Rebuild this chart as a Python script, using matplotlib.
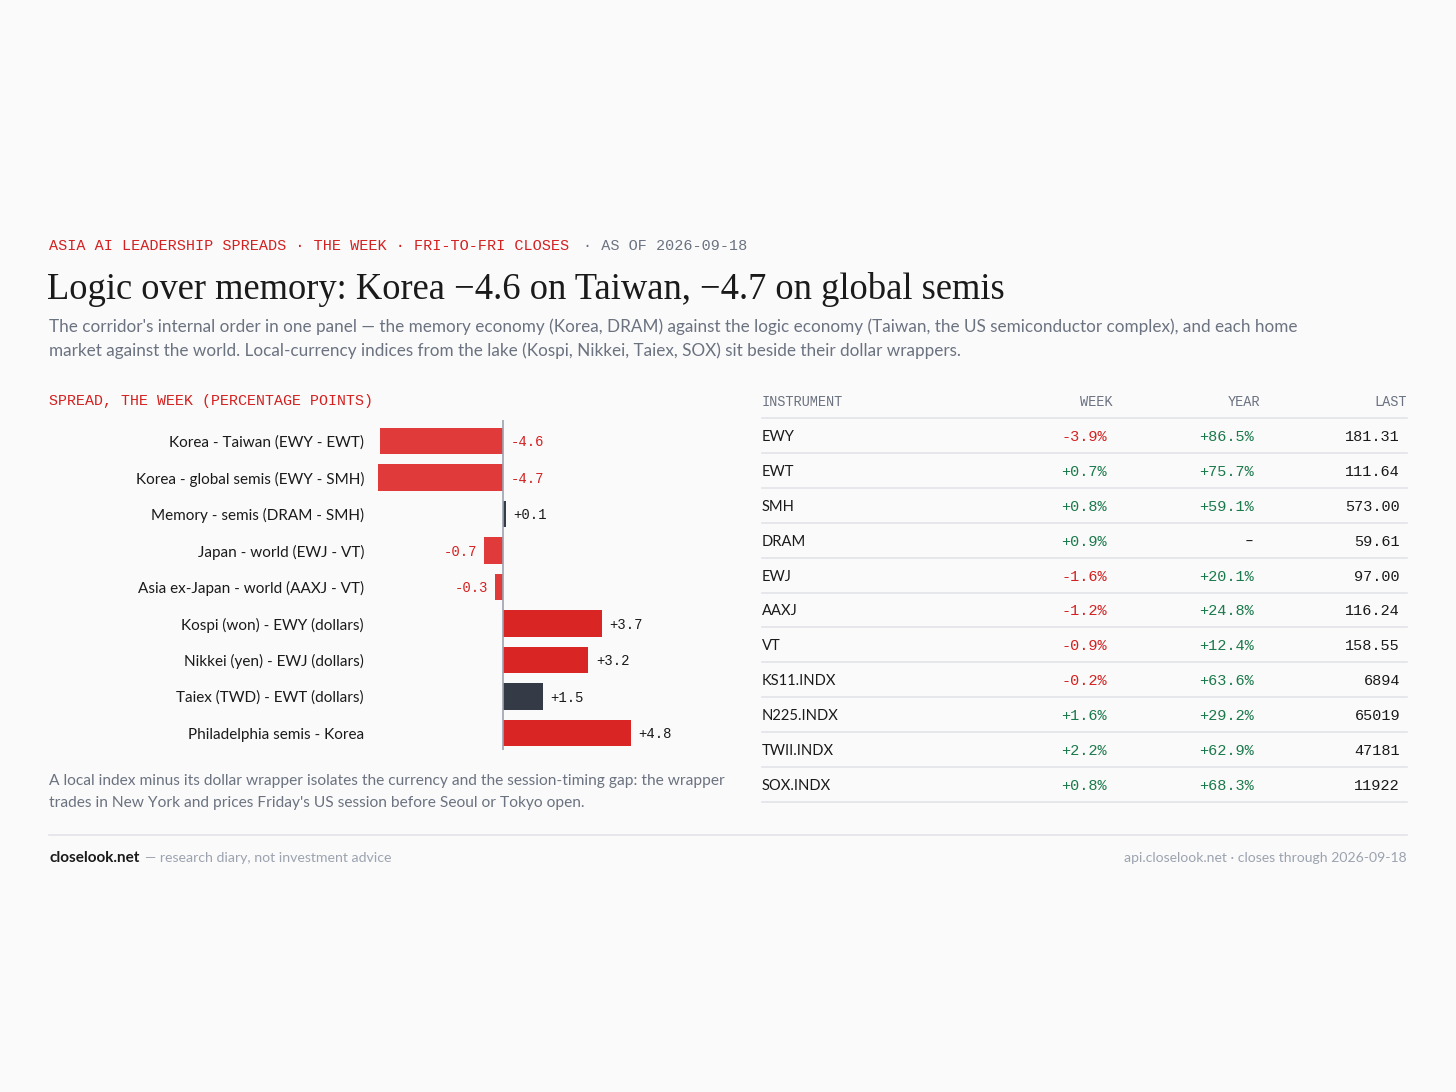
import matplotlib
matplotlib.use("Agg")
import matplotlib.pyplot as plt

W, H = 1456, 1092
BG = "#fafafa"
RED = "#d42020"
GREEN = "#1b7a4b"
DARK = "#1a1a1a"
GRAY = "#6b7280"
LIGHT = "#9ca3af"
SANS = ["Lato", "DejaVu Sans"]
MONO = ["Liberation Mono", "DejaVu Sans Mono"]
SERIF = ["Liberation Serif", "DejaVu Serif"]

# spread bars
spread_labels = ["Korea - Taiwan (EWY - EWT)", "Korea - global semis (EWY - SMH)",
                 "Memory - semis (DRAM - SMH)", "Japan - world (EWJ - VT)",
                 "Asia ex-Japan - world (AAXJ - VT)", "Kospi (won) - EWY (dollars)",
                 "Nikkei (yen) - EWJ (dollars)", "Taiex (TWD) - EWT (dollars)",
                 "Philadelphia semis - Korea"]
spread_values = [-4.6, -4.7, 0.1, -0.7, -0.3, 3.7, 3.2, 1.5, 4.8]
spread_colors = ["#e03a3a", "#e03a3a", "#353a47", "#e03a3a", "#e03a3a",
                 "#da2525", "#da2525", "#353a47", "#da2525"]

# table
instruments = ["EWY", "EWT", "SMH", "DRAM", "EWJ", "AAXJ", "VT",
               "KS11.INDX", "N225.INDX", "TWII.INDX", "SOX.INDX"]
week_pct = [-3.9, 0.7, 0.8, 0.9, -1.6, -1.2, -0.9, -0.2, 1.6, 2.2, 0.8]
year_pct = [86.5, 75.7, 59.1, None, 20.1, 24.8, 12.4, 63.6, 29.2, 62.9, 68.3]
last_px = ["181.31", "111.64", "573.00", "59.61", "97.00", "116.24", "158.55",
           "6894", "65019", "47181", "11922"]

fig = plt.figure(figsize=(W / 100, H / 100), dpi=100, facecolor=BG)


def fx(x):
    return x / W


def fy(y):
    return 1 - y / H


def txt(x, y, s, **kw):
    kw.setdefault("va", "center")
    fig.text(fx(x), fy(y + 1.5), s, **kw)


# header
txt(49, 244, "ASIA AI LEADERSHIP SPREADS · THE WEEK · FRI-TO-FRI CLOSES",
    family=MONO, fontsize=10.9, color=RED)
txt(583, 244, "· AS OF 2026-09-18", family=MONO, fontsize=10.9, color=GRAY)
txt(47, 288, "Logic over memory: Korea \u22124.6 on Taiwan, \u22124.7 on global semis",
    family=SERIF, fontsize=26.3, color=DARK)
txt(49, 325, "The corridor's internal order in one panel \u2014 the memory economy (Korea, DRAM) "
    "against the logic economy (Taiwan, the US semiconductor complex), and each home",
    family=SANS, fontsize=12.35, color=GRAY)
txt(49, 349, "market against the world. Local-currency indices from the lake (Kospi, Nikkei, "
    "Taiex, SOX) sit beside their dollar wrappers.",
    family=SANS, fontsize=12.35, color=GRAY)

# bar panel
txt(49, 400, "SPREAD, THE WEEK (PERCENTAGE POINTS)", family=MONO, fontsize=10.8, color=RED)

ax_l, ax_r, ax_t, ax_b = 370, 700, 420, 750
ax = fig.add_axes([fx(ax_l), fy(ax_b), fx(ax_r - ax_l), (ax_b - ax_t) / H])
ax.set_facecolor("none")
pxu = 26.7
ax.set_xlim((ax_l - 503) / pxu, (ax_r - 503) / pxu)
ax.set_ylim(8 + 17 / 36.5, -21 / 36.5)
ys = list(range(len(spread_values)))
ax.barh(ys, spread_values, height=0.72, color=spread_colors)
ax.axvline(0, color="#9ca3af", lw=1.2)
for y, v, lab in zip(ys, spread_values, spread_labels):
    s = f"{v:+.1f}"
    if v < -1:
        ax.text(0.28, y + 0.04, s, ha="left", va="center", family=MONO, fontsize=10, color=RED)
    elif v < 0:
        ax.text(v - 0.25, y + 0.04, s, ha="right", va="center", family=MONO, fontsize=10, color=RED)
    else:
        ax.text(v + 0.28, y + 0.04, s, ha="left", va="center", family=MONO, fontsize=10, color=DARK)
    txt(364, 441 + y * 36.5, lab, ha="right", family=SANS, fontsize=11, color=DARK)
ax.axis("off")

txt(49, 779, "A local index minus its dollar wrapper isolates the currency and the "
    "session-timing gap: the wrapper", family=SANS, fontsize=11.2, color=GRAY)
txt(49, 801, "trades in New York and prices Friday's US session before Seoul or Tokyo open.",
    family=SANS, fontsize=11.2, color=GRAY)

# table
t_l, t_r = 762, 1407
hdr = dict(family=MONO, fontsize=9.8, color=GRAY)
txt(t_l, 401, "INSTRUMENT", **hdr)
txt(1113, 401, "WEEK", ha="right", **hdr)
txt(1260, 401, "YEAR", ha="right", **hdr)
txt(1407, 401, "LAST", ha="right", **hdr)
row0, rh = 418, 34.9
for i in range(len(instruments) + 1):
    yy = row0 + i * rh
    fig.add_artist(plt.Line2D([fx(t_l), fx(t_r)], [fy(yy), fy(yy)], color="#e2e4e8", lw=1.2))
for i, name in enumerate(instruments):
    yc = row0 + (i + 0.5) * rh
    txt(t_l, yc, name, family=SANS, fontsize=10.6, color=DARK)
    w = week_pct[i]
    txt(1107, yc, f"{w:+.1f}%", ha="right", family=MONO, fontsize=11,
        color=RED if w < 0 else GREEN)
    yv = year_pct[i]
    if yv is None:
        txt(1254, yc, "\u2013", ha="right", family=SANS, fontsize=11, color=DARK)
    else:
        txt(1254, yc, f"{yv:+.1f}%", ha="right", family=MONO, fontsize=11,
            color=RED if yv < 0 else GREEN)
    txt(1400, yc, last_px[i], ha="right", family=MONO, fontsize=11, color=DARK)

# footer
fig.add_artist(plt.Line2D([fx(49), fx(1407)], [fy(835), fy(835)], color="#e2e4e8", lw=1.2))
txt(49, 857, "closelook.net", family=SANS, fontsize=11, weight="bold", color=DARK)
txt(145, 857, "\u2014 research diary, not investment advice", family=SANS, fontsize=10.2,
    color=LIGHT)
txt(1407, 857, "api.closelook.net \u00b7 closes through 2026-09-18", ha="right",
    family=SANS, fontsize=10.1, color=LIGHT)

fig.savefig("out.png", dpi=100, facecolor=BG)
